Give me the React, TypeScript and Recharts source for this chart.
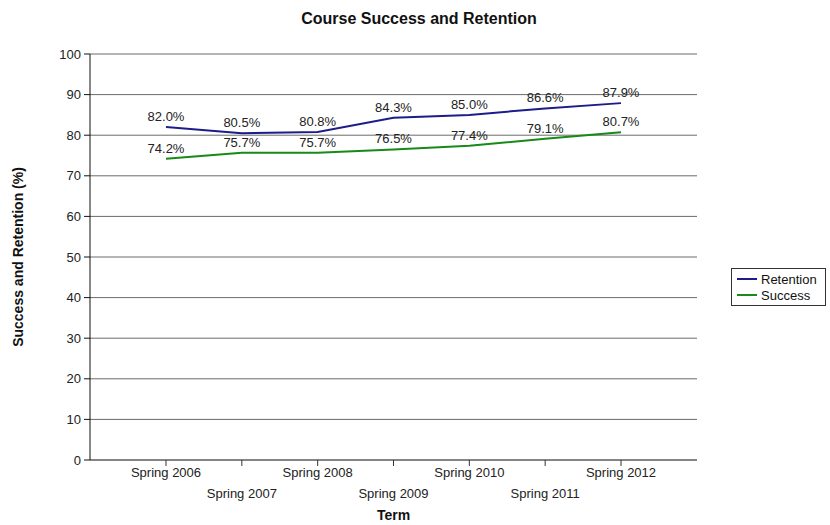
import { LineChart, Line, XAxis, YAxis, CartesianGrid, LabelList, Label } from "recharts";

const terms = ["Spring 2006", "Spring 2007", "Spring 2008", "Spring 2009", "Spring 2010", "Spring 2011", "Spring 2012"];
const retention = [82.0, 80.5, 80.8, 84.3, 85.0, 86.6, 87.9];
const success = [74.2, 75.7, 75.7, 76.5, 77.4, 79.1, 80.7];
const yTicks = [0, 10, 20, 30, 40, 50, 60, 70, 80, 90, 100];

const RET_COLOR = "#1c1c8a";
const SUC_COLOR = "#178a17";
const FONT = "'Liberation Sans', Arial, sans-serif";

const data = terms.map((term, i) => ({ term, retention: retention[i], success: success[i] }));

const XTick = ({ x, y, payload, index }: any) => (
  <text x={x} y={y + (index % 2 ? 21 : 0)} dy="0.71em" textAnchor="middle" fontSize={13} fill="#222" fontFamily={FONT}>
    {payload.value}
  </text>
);

const fmt = (v: any) => `${Number(v).toFixed(1)}%`;

export default function App() {
  return (
    <div style={{ position: "absolute", left: 0, top: 0, width: 830, height: 525, background: "#fff", fontFamily: FONT }}>
      <div style={{ position: "absolute", top: 10, left: 0, width: 838, textAlign: "center", fontWeight: "bold", fontSize: 16, color: "#111" }}>
        Course Success and Retention
      </div>
      <LineChart width={830} height={525} data={data} margin={{ top: 54, right: 133, bottom: 35, left: 0 }}>
        <CartesianGrid vertical={false} stroke="#6a6a6a" />
        <XAxis
          dataKey="term"
          interval={0}
          padding={{ left: 76, right: 76 }}
          tick={<XTick />}
          tickSize={6}
          tickMargin={2}
          stroke="#555"
          tickLine={{ stroke: "#333" }}
        >
          <Label value="Term" position="bottom" offset={20} style={{ fontWeight: "bold", fontSize: 14, fill: "#111" }} />
        </XAxis>
        <YAxis
          width={90}
          domain={[0, 100]}
          ticks={yTicks}
          interval={0}
          tickSize={6}
          tickMargin={3}
          stroke="#111"
          tick={{ fontSize: 13, fill: "#222" }}
        >
          <Label value="Success and Retention (%)" angle={-90} position="insideLeft" offset={18} style={{ textAnchor: "middle", fontWeight: "bold", fontSize: 14, fill: "#111" }} />
        </YAxis>
        <YAxis yAxisId="border" orientation="right" width={0} tick={false} tickLine={false} stroke="#6a6a6a" domain={[0, 100]} />
        <Line dataKey="retention" stroke={RET_COLOR} strokeWidth={2} dot={false} isAnimationActive={false}>
          <LabelList dataKey="retention" position="top" offset={6} formatter={fmt} style={{ fontSize: 13, fill: "#222" }} />
        </Line>
        <Line dataKey="success" stroke={SUC_COLOR} strokeWidth={2} dot={false} isAnimationActive={false}>
          <LabelList dataKey="success" position="top" offset={6} formatter={fmt} style={{ fontSize: 13, fill: "#222" }} />
        </Line>
      </LineChart>
      <div
        style={{
          position: "absolute",
          left: 731,
          top: 268,
          width: 93,
          height: 36,
          border: "1px solid #333",
          fontSize: 13,
          color: "#111",
          boxSizing: "content-box",
        }}
      >
        {[
          { name: "Retention", color: RET_COLOR },
          { name: "Success", color: SUC_COLOR },
        ].map((s) => (
          <div key={s.name} style={{ display: "flex", alignItems: "center", height: 16, marginTop: s.name === "Retention" ? 2 : 0 }}>
            <span style={{ display: "inline-block", width: 20, height: 2, background: s.color, marginLeft: 5, marginRight: 4 }} />
            {s.name}
          </div>
        ))}
      </div>
    </div>
  );
}
